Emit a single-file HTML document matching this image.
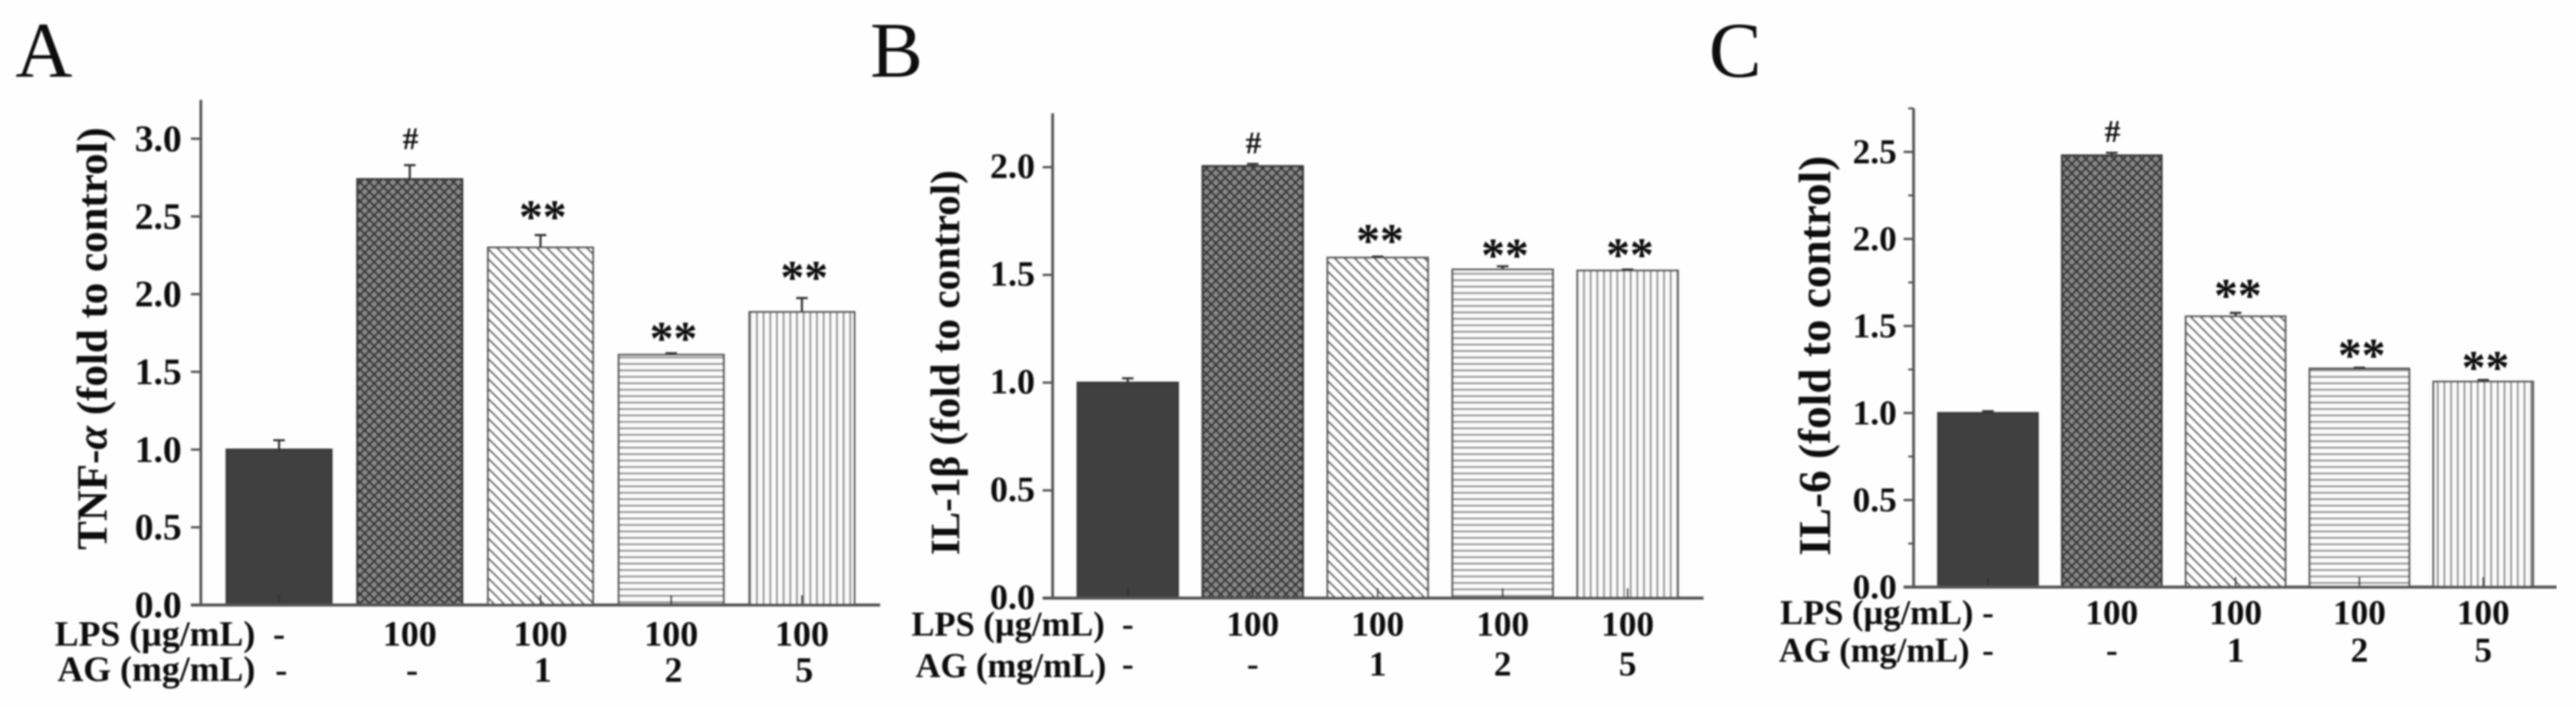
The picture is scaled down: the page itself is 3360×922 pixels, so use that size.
<!DOCTYPE html>
<html lang="en">
<head>
<meta charset="utf-8">
<title>Cytokine levels: TNF-α, IL-1β and IL-6</title>
<style>
  html, body { margin: 0; padding: 0; background: #fefefe; }
  svg { display: block; }
  text { font-family: "Liberation Serif", serif; fill: #111; }
  .b { font-weight: bold; }
</style>
</head>
<body>
<svg id="figure" xmlns="http://www.w3.org/2000/svg" width="3360" height="922" viewBox="0 0 3360 922">
  <defs>
    <filter id="soft" x="0" y="0" width="100%" height="100%" filterUnits="objectBoundingBox">
      <feGaussianBlur stdDeviation="1"/>
    </filter>
    <pattern id="hatch-cross" patternUnits="userSpaceOnUse" width="12.2" height="12.2">
      <rect width="12.2" height="12.2" fill="#8a8a8a"/>
      <path d="M0,0 L12.2,12.2 M12.2,0 L0,12.2" stroke="#3a3a3a" stroke-width="2.8"/>
    </pattern>
    <pattern id="hatch-diag" patternUnits="userSpaceOnUse" width="13" height="13">
      <rect width="13" height="13" fill="#fff"/>
      <path d="M-2,-2 L15,15 M11,-2 L15,2 M-2,11 L2,15" stroke="#6a6a6a" stroke-width="2.6"/>
    </pattern>
    <pattern id="hatch-horiz" patternUnits="userSpaceOnUse" width="8.4" height="8.4">
      <rect width="8.4" height="8.4" fill="#fbfbfb"/>
      <rect y="3" width="8.4" height="2.4" fill="#8c8c8c"/>
    </pattern>
    <pattern id="hatch-vert" patternUnits="userSpaceOnUse" width="8.7" height="8.7">
      <rect width="8.7" height="8.7" fill="#fbfbfb"/>
      <rect x="3" width="2.4" height="8.7" fill="#8c8c8c"/>
    </pattern>
  </defs>

  <rect width="3360" height="922" fill="#fefefe"/>

  <g id="root" filter="url(#soft)">
    <g id="panel-a">
      <text x="20" y="100" font-size="103">A</text>
      <text class="b" transform="translate(139 441.5) rotate(-90)" text-anchor="middle" font-size="56">TNF-<tspan font-style="italic">α</tspan> (fold to control)</text>
      <text class="b" x="333" y="842" text-anchor="end" font-size="46.7">LPS (µg/mL)</text>
      <text class="b" x="333" y="888" text-anchor="end" font-size="46.7">AG (mg/mL)</text>
    </g>
    <g id="panel-b">
      <text x="1135" y="100" font-size="103">B</text>
      <text class="b" transform="translate(1251 473) rotate(-90)" text-anchor="middle" font-size="53.6">IL-1β (fold to control)</text>
      <text class="b" x="1441" y="829" text-anchor="end" font-size="45">LPS (µg/mL)</text>
      <text class="b" x="1443" y="883" text-anchor="end" font-size="45">AG (mg/mL)</text>
    </g>
    <g id="panel-c">
      <text x="2229" y="100" font-size="103">C</text>
      <text class="b" transform="translate(2387 464) rotate(-90)" text-anchor="middle" font-size="59">IL-6 (fold to control)</text>
      <text class="b" x="2574" y="814" text-anchor="end" font-size="45">LPS (µg/mL)</text>
      <text class="b" x="2569" y="863" text-anchor="end" font-size="45">AG (mg/mL)</text>
    </g>
  </g>
</svg>

<script>
// ---- chart data ----
const lpsRow = ['-', '100', '100', '100', '100'];
const agRow = ['-', '-', '1', '2', '5'];
const sigMarks = ['', '#', '**', '**', '**'];
const barKinds = ['solid', 'cross', 'diag', 'horiz', 'vert'];

const tnfValues = [1.0, 2.74, 2.30, 1.61, 1.885];
const tnfErrors = [0.06, 0.09, 0.08, 0.01, 0.09];
const tnfTicks = ['0.0', '0.5', '1.0', '1.5', '2.0', '2.5', '3.0'];

const il1Values = [1.0, 2.005, 1.58, 1.525, 1.52];
const il1Errors = [0.02, 0.01, 0.005, 0.015, 0.005];
const il1Ticks = ['0.0', '0.5', '1.0', '1.5', '2.0'];

const il6Values = [1.0, 2.48, 1.555, 1.255, 1.18];
const il6Errors = [0.01, 0.015, 0.02, 0.005, 0.01];
const il6Ticks = ['0.0', '0.5', '1.0', '1.5', '2.0', '2.5'];

// ---- drawing ----
const NS = 'http://www.w3.org/2000/svg';

function make(tag, attrs, parent) {
  const node = document.createElementNS(NS, tag);
  for (const k in attrs) node.setAttribute(k, attrs[k]);
  parent.appendChild(node);
  return node;
}

function drawPanel(cfg) {
  const g = document.getElementById(cfg.id);
  const yScale = function (v) { return cfg.baseY - v * cfg.pxPerUnit; };
  const xScale = function (i) { return cfg.x0 + cfg.step * i; };
  const p = cfg.prefix;

  // bars
  cfg.values.forEach(function (v, i) {
    const kind = barKinds[i];
    const cx = xScale(i);
    const top = yScale(v);
    const fill = kind === 'solid' ? '#3f3f3f' : 'url(#hatch-' + kind + ')';
    const stroke = kind === 'solid' || kind === 'cross' ? '#3a3a3a' : '#5a5a5a';
    const bar = make('rect', {
      x: cx - cfg.barW / 2, y: top, width: cfg.barW, height: cfg.baseY - top,
      fill: fill, stroke: stroke, 'stroke-width': 2.6
    }, g);
    
    

    const errTop = yScale(v + cfg.errors[i]);
    const err = make('path', {
      d: 'M' + cx + ',' + top + ' L' + cx + ',' + errTop + ' M' + (cx - 7.5) + ',' + errTop + ' L' + (cx + 7.5) + ',' + errTop,
      stroke: '#333', 'stroke-width': 2.8, fill: 'none'
    }, g);
    
    

    const mark = sigMarks[i];
    if (mark === '#') {
      const t = make('text', {
        x: cx + 1, y: errTop - cfg.lift[i], 'text-anchor': 'middle',
        'font-size': 41, 'class': 'b'
      }, g);
      t.textContent = mark;
      
      
    } else if (mark === '**') {
      const t = make('text', {
        x: cx + 3, y: errTop - cfg.lift[i] + 15, 'text-anchor': 'middle',
        'font-size': 62, 'class': 'b'
      }, g);
      t.textContent = mark;
      
      
    }

    const inner = make('line', {
      x1: cx, x2: cx, y1: cfg.baseY, y2: cfg.baseY - 13,
      stroke: '#333', 'stroke-width': 2.4
    }, g);
    
    

    const lps = make('text', {
      x: cx, y: cfg.rowY1, 'text-anchor': 'middle',
      'font-size': cfg.rowSize, 'class': 'b'
    }, g);
    lps.textContent = lpsRow[i];
    
    

    const ag = make('text', {
      x: cx + cfg.rowShift, y: cfg.rowY2, 'text-anchor': 'middle',
      'font-size': cfg.rowSize, 'class': 'b'
    }, g);
    ag.textContent = agRow[i];
    
    
  });

  // axes
  const yAxis = make('line', {
    x1: cfg.axisX, x2: cfg.axisX, y1: yScale(cfg.yMax), y2: cfg.baseY,
    stroke: '#555', 'stroke-width': 3.6
  }, g);
  
  

  const xAxis = make('line', {
    x1: cfg.axisX - 13, x2: cfg.axisEnd, y1: cfg.baseY, y2: cfg.baseY,
    stroke: '#555', 'stroke-width': 4
  }, g);
  
  

  cfg.ticks.forEach(function (label) {
    const v = parseFloat(label);
    const y = yScale(v);
    if (v > 0) {
      const tick = make('line', {
        x1: cfg.axisX - 13, x2: cfg.axisX, y1: y, y2: y,
        stroke: '#555', 'stroke-width': 3
      }, g);
      
      
    }
    const t = make('text', {
      x: cfg.tickRight, y: y + cfg.tickDrop, 'text-anchor': 'end',
      'font-size': cfg.tickSize, 'class': 'b'
    }, g);
    t.textContent = label;
    
    
  });

  if (cfg.minor) {
    for (let m = 0.25; m <= cfg.yMax; m += 0.5) {
      const y = yScale(m);
      const minor = make('line', {
        x1: cfg.axisX - 7, x2: cfg.axisX, y1: y, y2: y,
        stroke: '#555', 'stroke-width': 2.6
      }, g);
      
      
    }
  }
}

drawPanel({
  id: 'panel-a', prefix: 'tnf', values: tnfValues, errors: tnfErrors, ticks: tnfTicks,
  baseY: 789, pxPerUnit: 202.7, yMax: 3.25, axisX: 262, axisEnd: 1148,
  x0: 364, step: 170.5, barW: 137, rowY1: 842, rowY2: 889, rowSize: 47, rowShift: 3,
  tickRight: 237, tickDrop: 16, tickSize: 49, lift: [0, 21, 18, 13.5, 21], minor: false
});
drawPanel({
  id: 'panel-b', prefix: 'il1', values: il1Values, errors: il1Errors, ticks: il1Ticks,
  baseY: 780, pxPerUnit: 281, yMax: 2.25, axisX: 1373, axisEnd: 2222,
  x0: 1471, step: 163, barW: 131, rowY1: 829, rowY2: 881, rowSize: 46, rowShift: 0,
  tickRight: 1350, tickDrop: 14, tickSize: 47, lift: [0, 14, 15, 9, 13.5], minor: false
});
drawPanel({
  id: 'panel-c', prefix: 'il6', values: il6Values, errors: il6Errors, ticks: il6Ticks,
  baseY: 765.6, pxPerUnit: 227, yMax: 2.75, axisX: 2496, axisEnd: 3335,
  x0: 2593, step: 161.5, barW: 130, rowY1: 814, rowY2: 863, rowSize: 46, rowShift: 0,
  tickRight: 2474, tickDrop: 15, tickSize: 46, lift: [0, 14, 17, 10.5, 10.5], minor: true
});
</script>
</body>
</html>
